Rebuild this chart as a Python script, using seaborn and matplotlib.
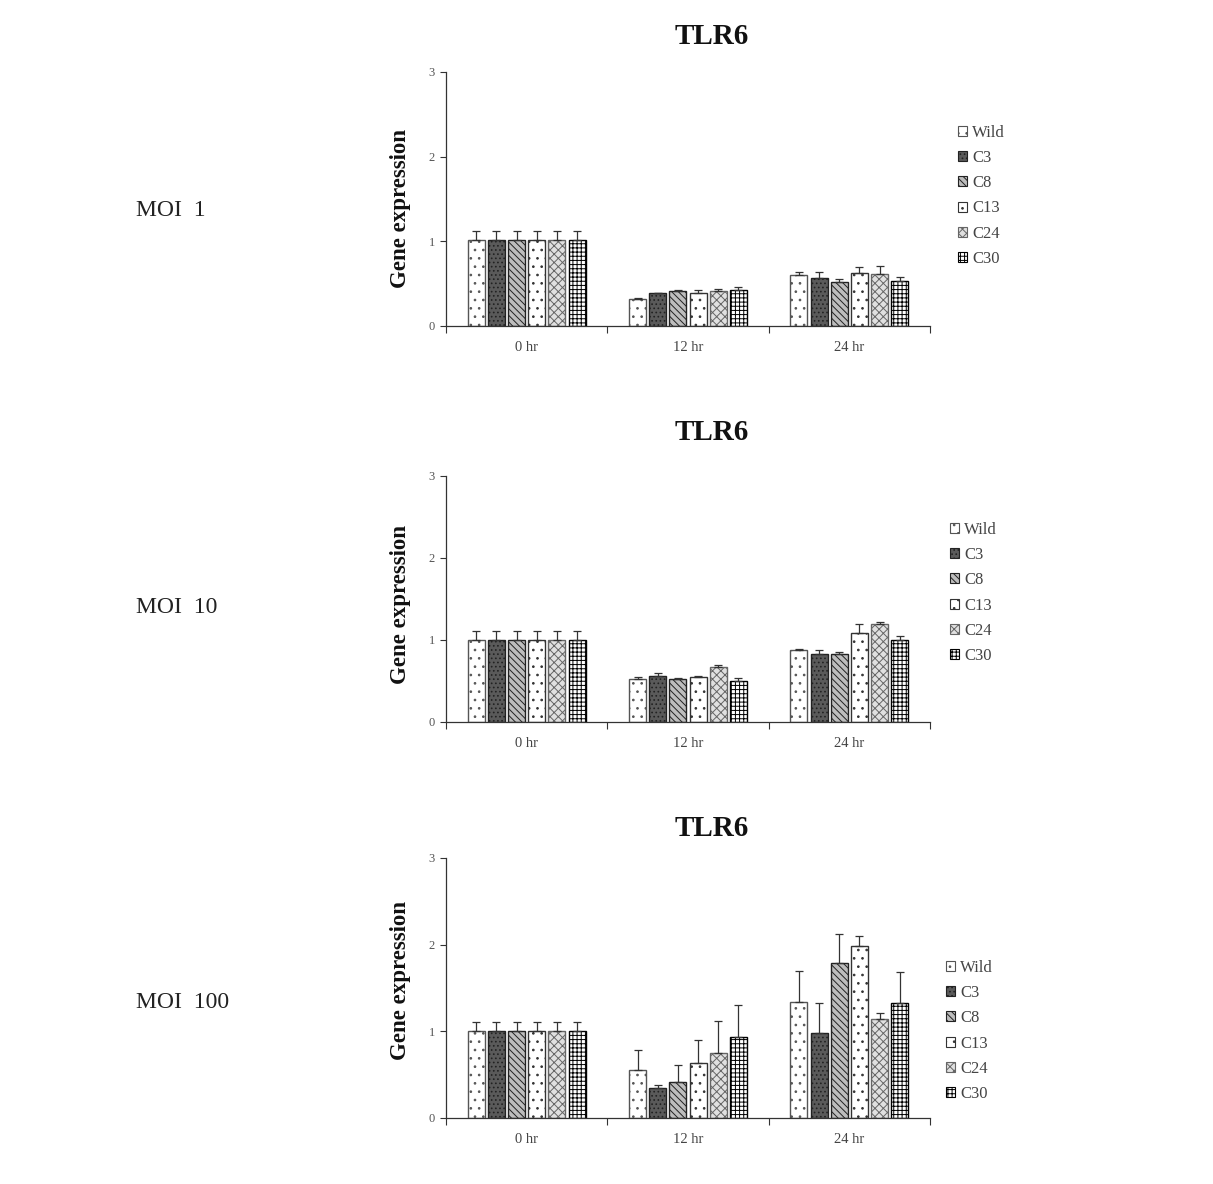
import numpy as np
import pandas as pd
import matplotlib
matplotlib.use("Agg")
import matplotlib.pyplot as plt
import seaborn as sns
from matplotlib.patches import Patch
from matplotlib.ticker import FixedLocator

sns.set_theme(style="white")
plt.rcParams['font.family'] = ['Liberation Serif', 'DejaVu Serif']
plt.rcParams['hatch.linewidth'] = 0.7

times = ['0 hr', '12 hr', '24 hr']
strains = ['Wild', 'C3', 'C8', 'C13', 'C24', 'C30']
moi_labels = ['MOI  1', 'MOI  10', 'MOI  100']
title = 'TLR6'

# MOI 1
moi1_0hr = [1.01, 1.01, 1.01, 1.01, 1.01, 1.01]
moi1_0hr_err = [0.11, 0.11, 0.11, 0.11, 0.11, 0.11]
moi1_12hr = [0.32, 0.385, 0.41, 0.385, 0.41, 0.43]
moi1_12hr_err = [0.01, 0.01, 0.01, 0.04, 0.03, 0.03]
moi1_24hr = [0.60, 0.57, 0.52, 0.63, 0.62, 0.53]
moi1_24hr_err = [0.04, 0.07, 0.04, 0.07, 0.09, 0.045]
# MOI 10
moi10_0hr = [1.0, 1.0, 1.0, 1.0, 1.0, 1.0]
moi10_0hr_err = [0.11, 0.11, 0.11, 0.11, 0.11, 0.11]
moi10_12hr = [0.52, 0.56, 0.53, 0.55, 0.67, 0.50]
moi10_12hr_err = [0.025, 0.04, 0.012, 0.012, 0.03, 0.04]
moi10_24hr = [0.88, 0.83, 0.83, 1.08, 1.19, 1.00]
moi10_24hr_err = [0.012, 0.05, 0.02, 0.12, 0.025, 0.05]
# MOI 100
moi100_0hr = [1.0, 1.0, 1.0, 1.0, 1.0, 1.0]
moi100_0hr_err = [0.11, 0.11, 0.11, 0.11, 0.11, 0.11]
moi100_12hr = [0.55, 0.35, 0.42, 0.63, 0.75, 0.93]
moi100_12hr_err = [0.23, 0.03, 0.19, 0.27, 0.37, 0.37]
moi100_24hr = [1.34, 0.98, 1.79, 1.98, 1.14, 1.33]
moi100_24hr_err = [0.36, 0.35, 0.33, 0.12, 0.07, 0.35]

panels = [
    (moi1_0hr, moi1_0hr_err, moi1_12hr, moi1_12hr_err, moi1_24hr, moi1_24hr_err),
    (moi10_0hr, moi10_0hr_err, moi10_12hr, moi10_12hr_err, moi10_24hr, moi10_24hr_err),
    (moi100_0hr, moi100_0hr_err, moi100_12hr, moi100_12hr_err, moi100_24hr, moi100_24hr_err),
]

styles = {
    'Wild': dict(facecolor='white', edgecolor='#555555', hatch='..'),
    'C3': dict(facecolor='#5a5a5a', edgecolor='#222222', hatch='....'),
    'C8': dict(facecolor='#bdbdbd', edgecolor='#222222', hatch='\\\\\\\\\\'),
    'C13': dict(facecolor='white', edgecolor='#333333', hatch='..'),
    'C24': dict(facecolor='#e0e0e0', edgecolor='#666666', hatch='xxxx'),
    'C30': dict(facecolor='white', edgecolor='#000000', hatch='++++'),
}

W, H = 1213, 1184
fig = plt.figure(figsize=(W / 100, H / 100), dpi=100)

# (bottom_px, top_px, legend_x_px, legend_top_px, moi_y_px, title_y_px, ylabel_y_px)
layout = [
    (326, 72, 958, 125, 211, 37, 209),
    (722, 476, 950, 522, 607, 433, 605),
    (1118, 858, 946, 960, 1003, 829, 981),
]
left_px, right_px = 446, 930

for i, (vals) in enumerate(panels):
    v0, e0, v12, e12, v24, e24 = vals
    df = pd.DataFrame({
        'time': np.repeat(times, len(strains)),
        'strain': strains * 3,
        'value': list(v0) + list(v12) + list(v24),
        'err': list(e0) + list(e12) + list(e24),
    })
    b, t, lx, ly, my, ty, yly = layout[i]
    ax = fig.add_axes([left_px / W, 1 - b / H, (right_px - left_px) / W, (b - t) / H])
    sns.barplot(data=df, x='time', y='value', hue='strain', order=times,
                hue_order=strains, errorbar=None, width=0.75, gap=0.16,
                legend=False, ax=ax)
    for s, cont in zip(strains, ax.containers):
        st = styles[s]
        sub = df[df.strain == s].set_index('time').loc[times]
        xs, ys = [], []
        for bar in cont.patches:
            bar.set_facecolor(st['facecolor'])
            bar.set_edgecolor(st['edgecolor'])
            bar.set_hatch(st['hatch'])
            bar.set_linewidth(1.0)
            xs.append(bar.get_x() + bar.get_width() / 2)
            ys.append(bar.get_height())
        errs = sub['err'].values
        ax.errorbar(xs, ys, yerr=[np.zeros_like(errs), errs], fmt='none',
                    ecolor='#333333', elinewidth=0.9, capsize=3, capthick=0.9, zorder=5)
    ax.set_xlim(-0.5, 2.5)
    ax.set_ylim(0, 3)
    ax.set_yticks([0, 1, 2, 3])
    ax.set_yticklabels(['0', '1', '2', '3'], fontsize=9, color='#555555')
    ax.tick_params(axis='y', direction='out', length=4, width=0.8, color='#333333', left=True, pad=4)
    ax.set_xticks([0, 1, 2])
    ax.set_xticklabels(times, fontsize=10.5, color='#444444')
    ax.tick_params(axis='x', which='major', length=0, pad=11)
    ax.xaxis.set_minor_locator(FixedLocator([-0.5, 0.5, 1.5, 2.5]))
    ax.tick_params(axis='x', which='minor', direction='out', length=5, width=0.8,
                   color='#333333', bottom=True)
    for sp in ['top', 'right']:
        ax.spines[sp].set_visible(False)
    for sp in ['left', 'bottom']:
        ax.spines[sp].set_color('#333333')
        ax.spines[sp].set_linewidth(0.9)
    ax.set_xlabel('')
    ax.set_ylabel('Gene expression', fontsize=16.5, fontweight='bold', color='#111111')
    ax.yaxis.set_label_coords(411 / W, 1 - yly / H, transform=fig.transFigure)
    ax.set_facecolor('none')

    fig.text(712 / W, 1 - ty / H, title, ha='center', va='center', fontsize=21,
             fontweight='bold', color='#111111')
    fig.text(136 / W, 1 - my / H, moi_labels[i], ha='left', va='center', fontsize=17,
             color='#222222')

    handles = [Patch(facecolor=styles[s]['facecolor'], edgecolor=styles[s]['edgecolor'],
                     hatch=styles[s]['hatch'], linewidth=0.8, label=s) for s in strains]
    leg = fig.legend(handles=handles, loc='upper left',
                     bbox_to_anchor=(lx / W, 1 - ly / H), frameon=False,
                     fontsize=12, handlelength=0.55, handleheight=0.55,
                     handletextpad=0.3, labelspacing=0.55, borderpad=0, borderaxespad=0)
    for txt in leg.get_texts():
        txt.set_color('#444444')

fig.savefig('out.png', dpi=100)
